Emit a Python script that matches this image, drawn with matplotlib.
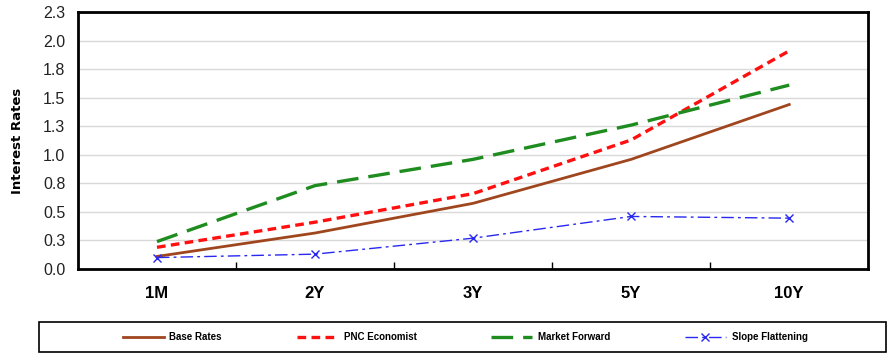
import matplotlib
matplotlib.use("Agg")
import matplotlib.pyplot as plt
from matplotlib.patches import Rectangle

tenors = ["1M", "2Y", "3Y", "5Y", "10Y"]
base_rates = [0.11, 0.315, 0.575, 0.96, 1.44]
pnc_economist = [0.19, 0.41, 0.66, 1.13, 1.91]
market_forward = [0.24, 0.73, 0.96, 1.26, 1.61]
slope_flattening = [0.10, 0.13, 0.27, 0.46, 0.445]

y_ticks = [0.0, 0.25, 0.5, 0.75, 1.0, 1.25, 1.5, 1.75, 2.0, 2.25]
y_labels = ["0.0", "0.3", "0.5", "0.8", "1.0", "1.3", "1.5", "1.8", "2.0", "2.3"]

plt.rcParams["font.family"] = ["Liberation Sans", "DejaVu Sans"]

fig = plt.figure(figsize=(8.93, 3.64), dpi=100)
ax = fig.add_axes([0.0873, 0.261, 0.885, 0.706])

x = list(range(len(tenors)))
ax.plot(x, base_rates, color="#A0461E", lw=2.0, label="Base Rates")
ax.plot(x, pnc_economist, color="#FF1010", lw=2.4, ls=(0, (2.6, 1.6)), label="PNC Economist")
ax.plot(x, market_forward, color="#1E8C1E", lw=2.4, ls=(0, (6.5, 3)), label="Market Forward")
ax.plot(x, slope_flattening, color="#2828F0", lw=1.0, ls=(0, (9, 3, 2, 3)),
        marker="x", ms=6, mew=1.0, label="Slope Flattening")

ax.set_xlim(-0.5, len(tenors) - 0.5)
ax.set_ylim(0, 2.25)
ax.set_yticks(y_ticks)
ax.set_yticklabels(y_labels, fontsize=11.5, color="#222222")
ax.tick_params(axis="y", length=0, pad=9)

ax.set_xticks([i + 0.5 for i in range(len(tenors) - 1)])
ax.set_xticklabels([])
ax.set_xticks(x, minor=True)
ax.set_xticklabels(tenors, minor=True, fontsize=12, fontweight="bold")
ax.tick_params(axis="x", which="major", direction="in", length=5, width=1)
ax.tick_params(axis="x", which="minor", length=0, pad=12)

ax.grid(axis="y", color="#D9D9D9", lw=1)
ax.set_axisbelow(True)
for s in ax.spines.values():
    s.set_linewidth(2)
    s.set_color("black")

ax.set_ylabel("Interest Rates", fontsize=9.5, fontweight="bold", labelpad=14,
              family="DejaVu Sans")

# legend box spanning almost the full width, as in the source sheet
fig.patches.append(Rectangle((39 / 893, 1 - 352 / 364), 847 / 893, 30 / 364,
                             transform=fig.transFigure, fill=False,
                             edgecolor="black", lw=1.2))
leg = fig.legend(loc="center", bbox_to_anchor=(0.521, 0.074), ncol=4,
                 frameon=False, prop={"size": 7, "weight": "bold",
                                      "family": ["Liberation Sans Narrow", "Liberation Sans"]},
                 handlelength=4.2, handletextpad=0.6, columnspacing=7.7)

fig.savefig("out.png", dpi=100)
